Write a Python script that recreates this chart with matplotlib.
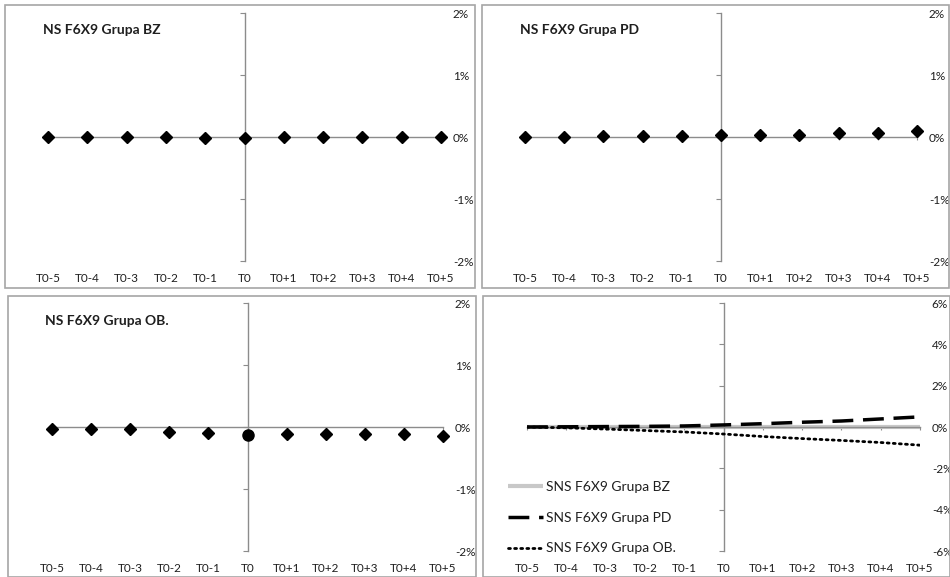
import matplotlib
matplotlib.use("Agg")
import matplotlib.pyplot as plt
from matplotlib.patches import Rectangle

categories = ["T0-5", "T0-4", "T0-3", "T0-2", "T0-1", "T0",
              "T0+1", "T0+2", "T0+3", "T0+4", "T0+5"]

# NS F6X9 (daily) per group
ns_bz = [0.0000, 0.0000, 0.0000, 0.0000, -0.0002, -0.0001, 0.0000, 0.0000, 0.0000, 0.0000, 0.0000]
ns_pd = [0.0000, 0.0000, 0.0001, 0.0001, 0.0001, 0.0004, 0.00035, 0.0003, 0.0007, 0.0007, 0.0009]
ns_ob = [-0.0004, -0.0004, -0.0004, -0.00075, -0.0009, -0.00135, -0.0012, -0.0012, -0.0011, -0.0012, -0.0014]

# SNS F6X9 (cumulative) per group
sns_bz = [0.0, 0.0, 0.0, 0.0, 0.0, 0.0, 0.0, 0.0, 0.0, 0.0, 0.0]
sns_pd = [0.0, 0.0001, 0.0002, 0.0003, 0.0005, 0.0010, 0.0016, 0.0023, 0.0029, 0.0039, 0.0049]
sns_ob = [0.0, -0.0004, -0.0010, -0.0017, -0.0024, -0.0034, -0.0046, -0.0056, -0.0065, -0.0075, -0.0088]

ticks_small = [-0.02, -0.01, 0.0, 0.01, 0.02]
labels_small = ["-2%", "-1%", "0%", "1%", "2%"]
ticks_big = [-0.06, -0.04, -0.02, 0.0, 0.02, 0.04, 0.06]
labels_big = ["-6%", "-4%", "-2%", "0%", "2%", "4%", "6%"]

W, H = 950, 577
AXIS_GREY = "#8c8c8c"
TXT = "#1f1f1f"

plt.rcParams['font.family'] = ['Lato', 'DejaVu Sans']
fig = plt.figure(figsize=(W / 100, H / 100), dpi=100)


def px_axes(x0, x1, y_top, y_bot):
    return fig.add_axes([x0 / W, 1 - y_bot / H, (x1 - x0) / W, (y_bot - y_top) / H])


def frame(x0, y0, x1, y1):
    fig.patches.append(Rectangle((x0 / W, 1 - y1 / H), (x1 - x0) / W, (y1 - y0) / H,
                                 transform=fig.transFigure, fill=False,
                                 edgecolor="#a6a6a6", lw=1.2))


def setup(ax, lim, yticks, ylabels):
    ax.set_xlim(0, 10)
    ax.set_ylim(-lim, lim)
    ax.patch.set_visible(False)
    ax.spines[['top', 'right']].set_visible(False)
    ax.spines['left'].set_position(('data', 5))
    ax.spines['bottom'].set_position(('data', 0))
    for s in ('left', 'bottom'):
        ax.spines[s].set_color(AXIS_GREY)
        ax.spines[s].set_linewidth(1)
    ax.set_yticks(yticks)
    ax.tick_params(axis='y', direction='out', length=3.5, color=AXIS_GREY, labelleft=False)
    ax.set_xticks(range(len(categories)))
    ax.tick_params(axis='x', direction='out', length=2.5, color=AXIS_GREY, labelbottom=False)

    sy = ax.secondary_yaxis('right')
    sy.set_yticks(yticks, ylabels)
    sy.tick_params(length=0, pad=8.5, labelsize=8.5, labelcolor=TXT)
    sy.spines['right'].set_visible(False)

    sx = ax.secondary_xaxis('bottom')
    sx.set_xticks(range(len(categories)), categories)
    sx.tick_params(length=0, pad=8.5, labelsize=8.5, labelcolor=TXT)
    sx.spines['bottom'].set_visible(False)


x = list(range(len(categories)))

# frames of the four charts
frame(5, 5, 475, 288)
frame(482, 5, 949, 288)
frame(8, 296, 476, 577)
frame(483, 296, 950, 577)

# top left
ax1 = px_axes(48, 441, 13, 261)
setup(ax1, 0.02, ticks_small, labels_small)
ax1.plot(x, ns_bz, 'D', color='black', ms=6, clip_on=False, zorder=3)
fig.text(43 / W, 1 - 30 / H, "NS F6X9 Grupa BZ", fontsize=10, fontweight='bold',
         color=TXT, va='center')

# top right
ax2 = px_axes(525, 917, 13, 261)
setup(ax2, 0.02, ticks_small, labels_small)
ax2.plot(x, ns_pd, 'D', color='black', ms=6, clip_on=False, zorder=3)
fig.text(520 / W, 1 - 30 / H, "NS F6X9 Grupa PD", fontsize=10, fontweight='bold',
         color=TXT, va='center')

# bottom left
ax3 = px_axes(52, 443, 303, 551)
setup(ax3, 0.02, ticks_small, labels_small)
xd = [i for i in x if i != 5]
ax3.plot(xd, [ns_ob[i] for i in xd], 'D', color='black', ms=6, clip_on=False, zorder=3)
ax3.plot([5], [ns_ob[5]], 'o', color='black', ms=8, clip_on=False, zorder=3)
fig.text(45 / W, 1 - 321 / H, "NS F6X9 Grupa OB.", fontsize=10, fontweight='bold',
         color=TXT, va='center')

# bottom right
ax4 = px_axes(527, 920, 303, 551)
setup(ax4, 0.06, ticks_big, labels_big)
ax4.plot(x, sns_bz, color='#c8c8c8', lw=3, solid_capstyle='butt',
         label="SNS F6X9 Grupa BZ", zorder=2)
ax4.plot(x, sns_pd, color='black', lw=2.5, dashes=(6, 2.8),
         label="SNS F6X9 Grupa PD", zorder=3)
ax4.plot(x, sns_ob, color='black', lw=2, dashes=(0.7, 1.5), dash_capstyle='round',
         label="SNS F6X9 Grupa OB.", zorder=3)
ax4.legend(loc='upper left', bbox_to_anchor=(508 / W, 1 - 481 / H),
           bbox_transform=fig.transFigure, frameon=False, fontsize=10,
           borderpad=0, borderaxespad=0, handlelength=2.5, handletextpad=0.2,
           labelspacing=1.35, labelcolor=TXT)

fig.savefig("out.png", dpi=100)
